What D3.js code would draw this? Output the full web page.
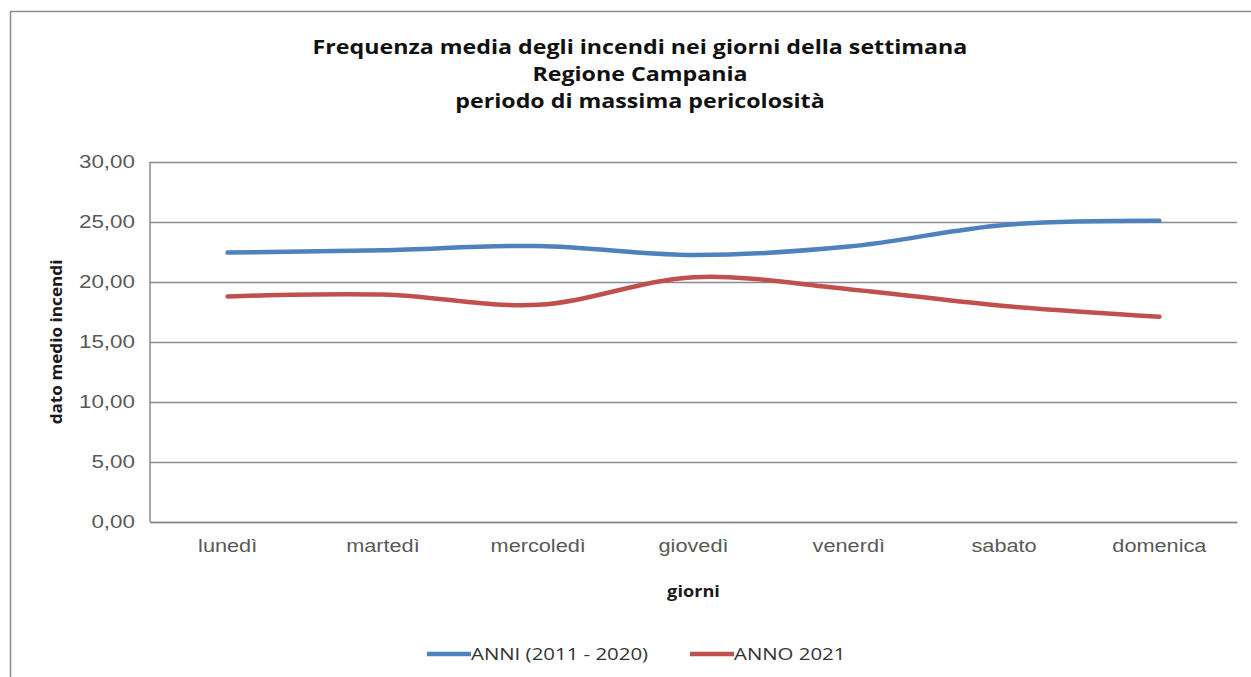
<!DOCTYPE html>
<html><head><meta charset="utf-8">
<script src="https://cdn.jsdelivr.net/npm/d3@7"></script>
<style>
html,body{margin:0;padding:0;background:#fff;}
svg{display:block;font-family:"Open Sans","Noto Sans",sans-serif;}
</style></head>
<body>
<svg id="c" width="1251" height="677"></svg>
<script>
const days = ["lunedì","martedì","mercoledì","giovedì","venerdì","sabato","domenica"];
const seriesNames = ["ANNI (2011 - 2020)","ANNO 2021"];
const anni20112020 = [22.45, 22.65, 23.0, 22.25, 22.95, 24.75, 25.1];
const anno2021 = [18.8, 18.95, 18.1, 20.4, 19.4, 18.0, 17.1];
const yTicks = [0,5,10,15,20,25,30];
const titleLines = ["Frequenza media degli incendi nei giorni della settimana","Regione Campania","periodo di massima pericolosità"];
const colors = ["#4F81BD","#C0504D"];

// widen glyphs horizontally (reference font is wide)
function stretch(sel, f){
  sel.each(function(){
    const len = this.getComputedTextLength();
    d3.select(this).attr("textLength", len*f).attr("lengthAdjust","spacingAndGlyphs");
  });
}

const svg = d3.select("#c");
svg.append("rect").attr("x",10.5).attr("y",11.5).attr("width",1260).attr("height",700)
  .attr("fill","#fff").attr("stroke","#8c8c8c").attr("stroke-width",1.5);

const m = {left:150, right:1237, top:162, bottom:522};
const x = d3.scaleBand().domain(days).range([m.left,m.right]).paddingInner(0).paddingOuter(0);
const y = d3.scaleLinear().domain([0,30]).range([m.bottom,m.top]);

const yAxis = d3.axisLeft(y).tickValues(yTicks).tickSize(-(m.right-m.left)).tickPadding(15)
  .tickFormat(d => d3.format(".2f")(d).replace(".",","));
const gy = svg.append("g").attr("transform",`translate(${m.left},0)`).call(yAxis);
gy.select(".domain").remove();
gy.selectAll(".tick line").attr("stroke","#8a8a8a").attr("stroke-width",1.5);
gy.selectAll(".tick text").attr("fill","#595959").style("font-size","17.5px");
stretch(gy.selectAll(".tick text"), 1.28);
svg.append("line").attr("x1",m.left).attr("x2",m.left).attr("y1",m.top).attr("y2",m.bottom)
  .attr("stroke","#8a8a8a").attr("stroke-width",1.5);

const xAxis = d3.axisBottom(x).tickSize(0).tickPadding(18);
const gx = svg.append("g").attr("transform",`translate(0,${m.bottom})`).call(xAxis);
gx.select(".domain").attr("stroke","#8a8a8a").attr("stroke-width",1.5);
gx.selectAll(".tick text").attr("fill","#595959").style("font-size","17.5px");
stretch(gx.selectAll(".tick text"), 1.24);

const gt = svg.append("text").attr("x",x("giovedì")+x.bandwidth()/2).attr("y",597).attr("text-anchor","middle")
  .style("font-size","16.5px").style("font-weight","bold").attr("fill","#1a1a1a").text("giorni");
stretch(gt, 1.1);
const yt = svg.append("text").attr("transform",`translate(62,${(m.top+m.bottom)/2}) rotate(-90)`).attr("text-anchor","middle")
  .style("font-size","16.5px").style("font-weight","bold").attr("fill","#1a1a1a").text("dato medio incendi");
stretch(yt, 1.04);

const tl = [54,81,108];
titleLines.forEach((t,i)=>{
  const tt = svg.append("text").attr("x",640).attr("y",tl[i]).attr("text-anchor","middle")
    .style("font-size","20px").style("font-weight","bold").attr("fill","#111").text(t);
  stretch(tt, 1.16);
});

const line = d3.line().x((d,i)=>x(days[i])+x.bandwidth()/2).y(d=>y(d)).curve(d3.curveCatmullRom.alpha(0.5));
[anni20112020, anno2021].forEach((s,i)=>{
  svg.append("path").datum(s).attr("d",line).attr("fill","none").attr("stroke",colors[i])
    .attr("stroke-width",4.5).attr("stroke-linecap","round");
});

const legX = [427, 690];
seriesNames.forEach((n,i)=>{
  svg.append("line").attr("x1",legX[i]).attr("x2",legX[i]+44).attr("y1",654).attr("y2",654)
    .attr("stroke",colors[i]).attr("stroke-width",4.5);
  const lt = svg.append("text").attr("x",legX[i]+44).attr("y",660).style("font-size","17px").attr("fill","#333").text(n);
  stretch(lt, 1.2);
});
</script>
</body></html>
